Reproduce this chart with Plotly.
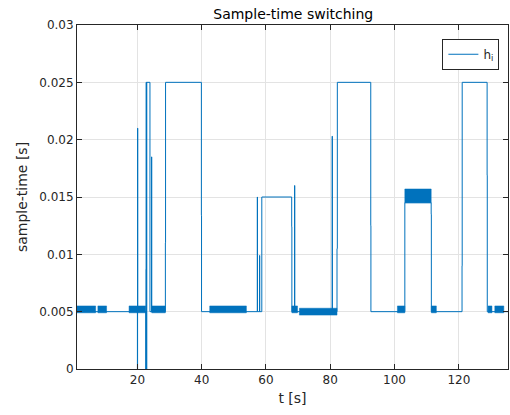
import plotly.graph_objects as go

# main step signal: breakpoints (time, sample-time), drawn as a step
t_steps = [1.2, 20.0, 20.05, 20.1, 22.6, 22.65, 22.7, 22.85, 22.9, 23.9, 24.4, 24.45,
           28.7, 28.75, 39.9, 39.95, 57.3, 57.35, 58.0, 58.05, 58.7, 68.0, 68.05,
           68.9, 68.95, 80.6, 80.65, 82.1, 82.2, 92.6, 92.65, 103.2, 111.4, 111.45,
           121.0, 121.05, 128.8, 128.85, 135.3]
h_steps = [0.005, 0.0, 0.021, 0.005, 0.0, 0.0087, 0.025, 0.0, 0.025, 0.005, 0.0185, 0.005,
           0.011, 0.025, 0.0134, 0.005, 0.015, 0.005, 0.0099, 0.005, 0.015, 0.0124, 0.005,
           0.016, 0.005, 0.0203, 0.005, 0.0105, 0.025, 0.0125, 0.005, 0.0145, 0.0135, 0.005,
           0.009, 0.025, 0.0169, 0.005, 0.005]

# chattering stretches: start, end, lower and upper envelope
chat_start = [1.2, 7.7, 17.4, 20.1, 24.45, 42.5, 68.05, 70.4, 100.9, 103.2, 111.45, 129.1, 131.2]
chat_end = [7.0, 10.4, 20.0, 22.6, 28.7, 53.9, 69.8, 82.1, 103.2, 111.4, 113.0, 130.3, 134.0]
chat_low = [0.0049, 0.0049, 0.0049, 0.0049, 0.0049, 0.0049, 0.0049, 0.0047, 0.0049, 0.0145, 0.0049, 0.0049, 0.0049]
chat_high = [0.0055, 0.0055, 0.0055, 0.0055, 0.0055, 0.0055, 0.0055, 0.0053, 0.0055, 0.0157, 0.0055, 0.0055, 0.0055]

BLUE = "#0072BD"
INK = "#262626"
FONT = "DejaVu Sans"

band_x, band_y = [], []
for a, b, lo, hi in zip(chat_start, chat_end, chat_low, chat_high):
    band_x += [a, b, b, a, a, None]
    band_y += [lo, lo, hi, hi, lo, None]

fig = go.Figure()
fig.add_trace(go.Scatter(
    x=band_x, y=band_y, mode="lines", fill="toself", fillcolor=BLUE,
    line=dict(color=BLUE, width=0.5), showlegend=False, hoverinfo="skip",
))
fig.add_trace(go.Scatter(
    x=t_steps, y=h_steps, mode="lines", line=dict(color=BLUE, width=1, shape="hv"),
    name="h<sub>i</sub>",
))

axis_common = dict(
    showline=True, linecolor=INK, linewidth=1, mirror="ticks",
    ticks="inside", ticklen=5, tickcolor=INK, automargin=False,
    showgrid=True, gridcolor="#e3e3e3", gridwidth=1, zeroline=False,
    tickfont=dict(family=FONT, size=12, color=INK),
    title_font=dict(family=FONT, size=14, color=INK),
)
fig.update_xaxes(
    range=[1.2, 135.3], tickvals=[20, 40, 60, 80, 100, 120],
    title_text="t [s]", title_standoff=6, **axis_common,
)
fig.update_yaxes(
    range=[0, 0.03], tickvals=[0, 0.005, 0.01, 0.015, 0.02, 0.025, 0.03],
    ticktext=["0", "0.005", "0.01", "0.015", "0.02", "0.025", "0.03"],
    title_text="sample-time [s]", title_standoff=8, **axis_common,
)
fig.update_layout(
    width=510, height=415,
    margin=dict(l=77, r=2, t=25, b=46, autoexpand=False),
    plot_bgcolor="white", paper_bgcolor="white",
    title=dict(text="Sample-time switching", x=0.575, xanchor="center", y=0.967,
               yanchor="middle", font=dict(family=FONT, size=14, color="black")),
    legend=dict(x=0.98, y=0.96, xanchor="right", yanchor="top",
                bgcolor="white", bordercolor=INK, borderwidth=1,
                font=dict(family=FONT, size=12, color=INK),
                itemwidth=30, tracegroupgap=0),
    font=dict(family=FONT),
)

# drop the page's default body margin so the figure sits at the window corner
fig.write_html("out.html", config={"displayModeBar": False},
               post_script="document.body.style.margin='0';")
